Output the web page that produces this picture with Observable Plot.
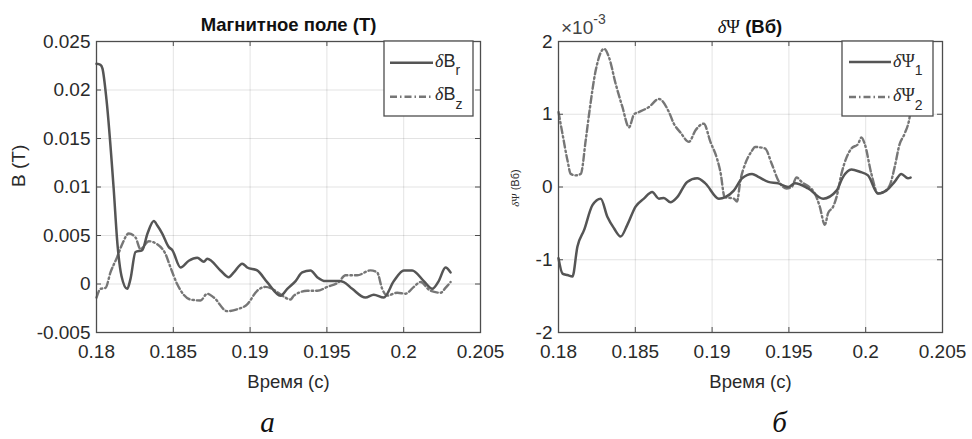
<!DOCTYPE html>
<html>
<head>
<meta charset="utf-8">
<script src="https://cdn.jsdelivr.net/npm/d3@7"></script>
<script src="https://cdn.jsdelivr.net/npm/@observablehq/plot@0.6"></script>
<style>
  html, body { margin: 0; padding: 0; background: #fff; }
  #wrap { position: relative; width: 972px; height: 439px; background: #fff; overflow: hidden; }
  #left, #right { position: absolute; top: 0; }
  #left { left: 0; }
  #right { left: 486px; }
</style>
</head>
<body>
<div id="wrap"><div id="left"></div><div id="right"></div></div>
<script>
// ---------- data ----------
const xTicks = [0.18, 0.185, 0.19, 0.195, 0.2, 0.205];
const bTicks = [-0.005, 0, 0.005, 0.01, 0.015, 0.02, 0.025];
const psiTicks = [-2, -1, 0, 1, 2];

// δBr (solid)
const brT = [0.18000,0.18026,0.18039,0.18065,0.18111,0.18137,0.18163,0.18200,0.18221,0.18254,0.18298,0.18332,0.18373,0.18397,0.18428,0.18471,0.18493,0.18547,0.18601,0.18656,0.18699,0.18721,0.18807,0.18861,0.18894,0.18949,0.18981,0.19046,0.19111,0.19198,0.19242,0.19296,0.19339,0.19393,0.19437,0.19491,0.19577,0.19610,0.19665,0.19751,0.19805,0.19870,0.19936,0.20001,0.20055,0.20131,0.20186,0.20228,0.20272,0.20305];
const brV = [0.0227,0.0226,0.0222,0.0190,0.0100,0.0040,0.0008,-0.0005,0.0005,0.0033,0.0035,0.0052,0.0065,0.0060,0.0052,0.0038,0.0035,0.0017,0.0024,0.0027,0.0023,0.0026,0.0014,0.0007,0.0012,0.0021,0.0017,0.0014,0.0002,-0.0012,-0.0005,0.0003,0.0012,0.0014,0.0007,0.0003,0.0003,0.0002,-0.0005,-0.0014,-0.0011,-0.0014,0.0003,0.0014,0.0014,0.0003,-0.0005,0.0003,0.0017,0.0012];

// δBz (dash-dot)
const bzT = [0.18000,0.18026,0.18059,0.18091,0.18135,0.18167,0.18210,0.18254,0.18286,0.18341,0.18395,0.18449,0.18482,0.18525,0.18612,0.18677,0.18721,0.18764,0.18851,0.18916,0.18981,0.19046,0.19100,0.19144,0.19209,0.19263,0.19285,0.19372,0.19437,0.19502,0.19577,0.19621,0.19697,0.19784,0.19827,0.19860,0.19893,0.19958,0.20012,0.20066,0.20109,0.20174,0.20240,0.20272,0.20305];
const bzV = [-0.0014,-0.0005,-0.0004,0.0012,0.0028,0.0041,0.0052,0.0048,0.0036,0.0044,0.0041,0.0031,0.0017,0.0000,-0.0016,-0.0017,-0.0010,-0.0014,-0.0028,-0.0026,-0.0021,-0.0007,-0.0003,-0.0005,-0.0012,-0.0016,-0.0012,-0.0007,-0.0007,-0.0003,0.0002,0.0009,0.0009,0.0014,0.0012,-0.0005,-0.0012,-0.0009,-0.0010,-0.0003,0.0002,-0.0007,-0.0009,-0.0004,0.0002];

// δΨ1 (solid), units of 1e-3 Wb
const psi1T = [0.18000,0.18026,0.18058,0.18091,0.18123,0.18167,0.18221,0.18275,0.18318,0.18362,0.18405,0.18448,0.18502,0.18556,0.18610,0.18654,0.18686,0.18729,0.18773,0.18838,0.18903,0.18956,0.19044,0.19086,0.19141,0.19195,0.19260,0.19301,0.19366,0.19431,0.19495,0.19539,0.19625,0.19723,0.19810,0.19853,0.19907,0.19961,0.20015,0.20080,0.20134,0.20188,0.20232,0.20275,0.20292];
const psi1V = [-0.98,-1.19,-1.21,-1.23,-0.82,-0.59,-0.25,-0.16,-0.41,-0.57,-0.68,-0.52,-0.27,-0.16,-0.07,-0.16,-0.15,-0.21,-0.14,0.07,0.12,0.05,-0.16,-0.14,-0.05,0.12,0.18,0.14,0.07,0.05,0.00,0.05,-0.02,-0.16,-0.05,0.14,0.24,0.21,0.16,-0.09,-0.05,0.07,0.18,0.12,0.13];

// δΨ2 (dash-dot)
const psi2T = [0.18000,0.18026,0.18058,0.18080,0.18112,0.18145,0.18177,0.18199,0.18242,0.18297,0.18329,0.18372,0.18416,0.18459,0.18492,0.18524,0.18589,0.18654,0.18719,0.18751,0.18794,0.18849,0.18892,0.18946,0.18989,0.19032,0.19054,0.19082,0.19141,0.19162,0.19184,0.19216,0.19260,0.19279,0.19344,0.19388,0.19431,0.19485,0.19518,0.19550,0.19583,0.19669,0.19701,0.19734,0.19755,0.19788,0.19810,0.19842,0.19907,0.19950,0.19972,0.19994,0.20037,0.20080,0.20113,0.20156,0.20188,0.20221,0.20253,0.20286,0.20292];
const psi2V = [1.03,0.73,0.37,0.18,0.16,0.18,0.64,1.00,1.60,1.90,1.78,1.42,1.10,0.82,1.00,1.03,1.10,1.21,1.03,0.87,0.75,0.62,0.78,0.87,0.62,0.39,0.21,-0.14,-0.16,-0.20,0.09,0.32,0.50,0.55,0.53,0.32,0.09,-0.02,0.00,0.13,0.07,-0.09,-0.27,-0.52,-0.36,-0.27,-0.14,0.18,0.53,0.59,0.68,0.59,0.18,-0.09,-0.07,0.02,0.27,0.59,0.73,0.96,1.04];

// ---------- helpers ----------
const zip = (T, V) => T.map((t, i) => ({t, v: V[i]}));
const fmt = d => String(+(+d).toFixed(4));
const SANS = "'Liberation Sans', Arial, Helvetica, sans-serif";
const SERIF = "'Liberation Serif', 'Times New Roman', serif";
const TXT = "#2a2a2a";
const C1 = "#555555", C2 = "#767676";
const DASH = "7,3,1.5,3";
const W = 486, H = 439, MT = 41, MB = 107;

function panel({ml, mr, yDomain, yTicks, s1, s2, ylabel, ylabelDx, title, captionText, capDx}) {
  const pw = W - ml - mr, ph = H - MT - MB;
  const marks = [
    Plot.gridX(xTicks, {stroke: "#000", strokeOpacity: 0.11, strokeWidth: 1}),
    Plot.gridY(yTicks, {stroke: "#000", strokeOpacity: 0.11, strokeWidth: 1}),
    Plot.line(s2, {x: "t", y: "v", stroke: C2, strokeWidth: 2.4, strokeDasharray: DASH, curve: "monotone-x"}),
    Plot.line(s1, {x: "t", y: "v", stroke: C1, strokeWidth: 2.5, curve: "monotone-x"}),
    Plot.tickX(xTicks, {x: d => d, insetTop: ph - 5, stroke: "#4d4d4d"}),
    Plot.tickX(xTicks, {x: d => d, insetBottom: ph - 5, stroke: "#4d4d4d"}),
    Plot.tickY(yTicks, {y: d => d, insetRight: pw - 5, stroke: "#4d4d4d"}),
    Plot.tickY(yTicks, {y: d => d, insetLeft: pw - 5, stroke: "#4d4d4d"}),
    Plot.frame({stroke: "#4d4d4d", strokeWidth: 1.3}),
    Plot.axisX(xTicks, {tickSize: 0, tickPadding: 12, tickFormat: fmt, label: null, fontSize: 19, fill: TXT}),
    Plot.axisY(yTicks, {tickSize: 0, tickPadding: 6, tickFormat: fmt, label: null, fontSize: 19, fill: TXT}),
    Plot.text(["Время (с)"], {frameAnchor: "bottom", dy: 50, lineAnchor: "middle", fontSize: 18.5, fill: TXT}),
    Plot.text([captionText], {frameAnchor: "bottom", dy: 99, lineAnchor: "bottom", fontSize: 29, fontStyle: "italic", fontFamily: SERIF, fill: "#111", dx: capDx})
  ];
  if (ylabel) marks.push(Plot.text([ylabel], {frameAnchor: "left", dx: ylabelDx, rotate: -90, fontSize: 19, fill: TXT}));
  if (title) marks.push(Plot.text([title], {frameAnchor: "top", dy: -11, lineAnchor: "bottom", fontSize: 18.5, fontWeight: "bold", fill: "#111"}));
  return Plot.plot({
    width: W, height: H,
    marginLeft: ml, marginRight: mr, marginTop: MT, marginBottom: MB,
    style: {fontFamily: SANS, fontSize: "18px", color: TXT, background: "transparent", overflow: "visible"},
    x: {domain: [0.18, 0.205]},
    y: {domain: yDomain},
    marks
  });
}

function legend(svg, {x, y, w, h, x1, x2, tx, rows}) {
  const g = d3.select(svg).append("g").attr("text-anchor", "start");
  g.append("rect").attr("x", x).attr("y", y).attr("width", w).attr("height", h)
    .attr("fill", "#fff").attr("stroke", "#4d4d4d").attr("stroke-width", 1.3);
  for (const r of rows) {
    g.append("line").attr("x1", x1).attr("x2", x2).attr("y1", r.ly).attr("y2", r.ly)
      .attr("stroke", r.color).attr("stroke-width", r.dash ? 2.4 : 2.5)
      .attr("stroke-dasharray", r.dash || null);
    const t = g.append("text").attr("x", tx).attr("y", r.base).attr("font-size", 18)
      .attr("fill", TXT).attr("text-anchor", "start");
    t.append("tspan").attr("font-family", SERIF).attr("font-style", "italic").text("δ");
    t.append("tspan").attr("font-family", r.serif ? SERIF : SANS).text(r.sym);
    t.append("tspan").attr("font-family", SANS).attr("font-size", 14).attr("dy", r.subDy).text(r.sub);
  }
}

// ---------- left panel ----------
const left = panel({
  ml: 96, mr: 6, yDomain: [-0.005, 0.025], yTicks: bTicks,
  s1: zip(brT, brV), s2: zip(bzT, bzV),
  ylabel: "B (T)", ylabelDx: -78, title: "Магнитное поле (Т)", captionText: "а", capDx: -21
});
document.getElementById("left").append(left);
legend(left, {x: 384, y: 41, w: 89, h: 75, x1: 390, x2: 433, tx: 435, rows: [
  {ly: 62.7, base: 66.5, color: C1, dash: null, sym: "B", serif: false, sub: "r", subDy: 8},
  {ly: 96.7, base: 100, color: C2, dash: DASH, sym: "B", serif: false, sub: "z", subDy: 9}
]});

// ---------- right panel ----------
const right = panel({
  ml: 72, mr: 30, yDomain: [-2, 2], yTicks: psiTicks,
  s1: zip(psi1T, psi1V), s2: zip(psi2T, psi2V),
  ylabel: null, title: null, captionText: "б", capDx: 29
});
document.getElementById("right").append(right);
legend(right, {x: 356, y: 41, w: 91, h: 75, x1: 363, x2: 405, tx: 407, rows: [
  {ly: 62, base: 67, color: C1, dash: null, sym: "Ψ", serif: true, sub: "1", subDy: 8},
  {ly: 97, base: 101, color: C2, dash: DASH, sym: "Ψ", serif: true, sub: "2", subDy: 9}
]});
{
  const s = d3.select(right);
  // title δΨ (Вб)
  const t = s.append("text").attr("x", 264).attr("y", 33).attr("text-anchor", "middle")
    .attr("font-size", 18.5).attr("font-weight", "bold").attr("fill", "#111");
  t.append("tspan").attr("font-family", SERIF).attr("font-style", "italic").attr("font-weight", "normal").text("δ");
  t.append("tspan").attr("font-family", SERIF).attr("font-weight", "normal").text("Ψ");
  t.append("tspan").attr("font-family", SANS).text(" (Вб)");
  // exponent ×10^-3
  const e = s.append("text").attr("x", 75).attr("y", 34).attr("font-family", SANS)
    .attr("text-anchor", "start").attr("font-size", 19).attr("fill", "#444");
  e.append("tspan").text("×10");
  e.append("tspan").attr("font-size", 14).attr("dy", -10).text("-3");
  // small y label δΨ (Вб)
  const yl = s.append("text").attr("transform", "translate(33,188) rotate(-90)")
    .attr("text-anchor", "middle").attr("font-size", 11).attr("fill", TXT).attr("font-family", SANS);
  yl.append("tspan").attr("font-family", SERIF).attr("font-style", "italic").text("δ");
  yl.append("tspan").attr("font-family", SERIF).text("Ψ");
  yl.append("tspan").text(" (Вб)");
}
</script>
</body>
</html>
